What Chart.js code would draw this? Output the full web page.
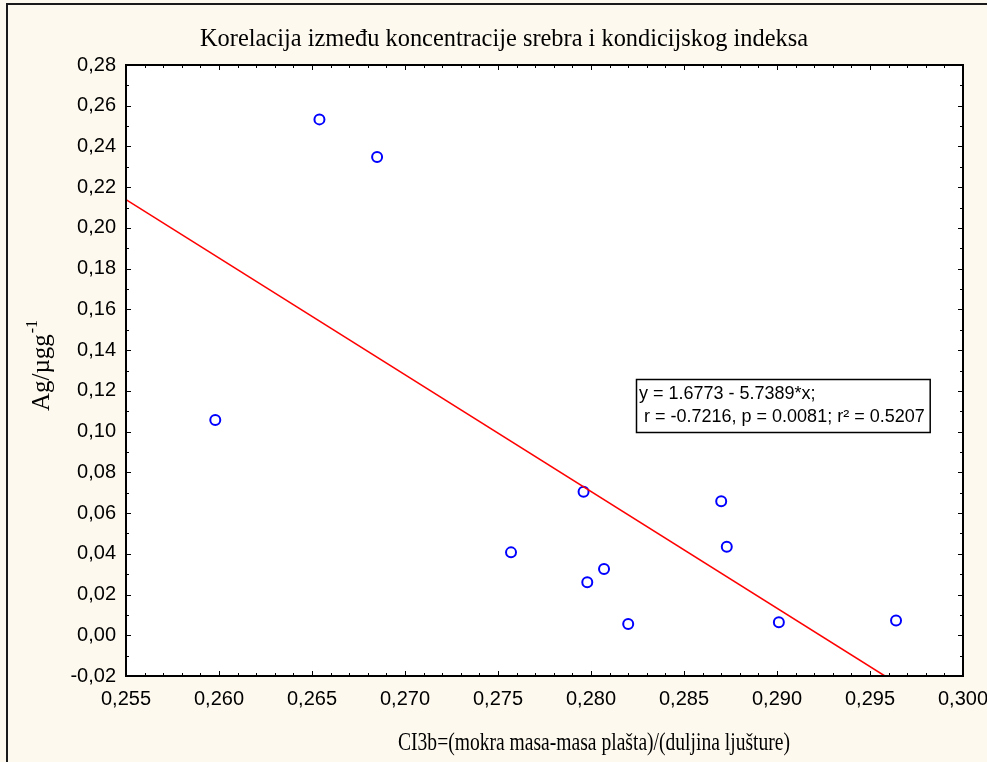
<!DOCTYPE html>
<html>
<head>
<meta charset="utf-8">
<script src="https://cdn.jsdelivr.net/npm/chart.js@4.4.1/dist/chart.umd.min.js"></script>
<style>
  html, body { margin: 0; padding: 0; background: #fdf9ee; }
  canvas { display: block; }
</style>
</head>
<body>
<canvas id="corrChart" width="987" height="762"></canvas>
<script>
// measured points: CI3b (x) vs Ag/µgg-1 (y)
const ciValues = [0.2598, 0.2654, 0.2685, 0.2757, 0.2796, 0.2798, 0.2807, 0.2820, 0.2870, 0.2873, 0.2901, 0.2964];
const agValues = [0.1057, 0.2533, 0.2348, 0.0407, 0.0705, 0.0260, 0.0325, 0.0055, 0.0658, 0.0435, 0.0064, 0.0073];

// fitted line end points
const fitX = [0.255, 0.2958];
const fitY = [0.2139, -0.020];

const titleText = "Korelacija između koncentracije srebra i kondicijskog indeksa";
const xTitle = "CI3b=(mokra masa-masa plašta)/(duljina ljušture)";
const yTitle = "Ag/µgg";
const yTitleSup = "-1";
const statLines = ["y = 1.6773 - 5.7389*x;", " r = -0.7216, p = 0.0081; r² = 0.5207"];
const statAnchor = [0.2824, 0.1258]; // top-left of the box, in data units

const xMin = 0.255, xMax = 0.300, xStep = 0.005, xMinor = 0.001;
const yMin = -0.02, yMax = 0.28, yStep = 0.02, yMinor = 0.01;

const comma = (v, d) => v.toFixed(d).replace(".", ",");

const scatterPoints = ciValues.map((x, i) => ({ x: x, y: agValues[i] }));
const fitPoints = fitX.map((x, i) => ({ x: x, y: fitY[i] }));

const serif = "'Liberation Serif', 'Times New Roman', serif";
const sans = "'Liberation Sans', Arial, sans-serif";

// background, frame, inward ticks and texts
const decorPlugin = {
  id: "decor",
  beforeDraw(chart) {
    const ctx = chart.ctx;
    const a = chart.chartArea;
    ctx.save();
    ctx.fillStyle = "#fdf9ee";
    ctx.fillRect(0, 0, chart.width, chart.height);
    ctx.strokeStyle = "#1a1a1a";
    ctx.lineWidth = 2;
    ctx.strokeRect(7, 4, 1200, 1200);
    ctx.fillStyle = "#ffffff";
    ctx.fillRect(a.left, a.top, a.right - a.left, a.bottom - a.top);
    ctx.restore();
  },
  afterDatasetsDraw(chart) {
    const ctx = chart.ctx;
    const a = chart.chartArea;
    const xs = chart.scales.x, ys = chart.scales.y;
    ctx.save();
    ctx.strokeStyle = "#000";
    ctx.lineWidth = 1;
    ctx.beginPath();
    const nx = Math.round((xMax - xMin) / xMinor);
    for (let i = 0; i <= nx; i++) {
      const v = xMin + i * xMinor;
      const px = Math.round(xs.getPixelForValue(v)) + 0.5;
      const len = (i % 5 === 0) ? 5 : 3;
      ctx.moveTo(px, a.bottom); ctx.lineTo(px, a.bottom - len);
      ctx.moveTo(px, a.top); ctx.lineTo(px, a.top + len);
    }
    const ny = Math.round((yMax - yMin) / yMinor);
    for (let i = 0; i <= ny; i++) {
      const v = yMin + i * yMinor;
      const py = Math.round(ys.getPixelForValue(v)) + 0.5;
      const len = (i % 2 === 0) ? 5 : 3;
      ctx.moveTo(a.left, py); ctx.lineTo(a.left + len, py);
      ctx.moveTo(a.right, py); ctx.lineTo(a.right - len, py);
    }
    ctx.stroke();
    ctx.lineWidth = 2;
    ctx.strokeRect(a.left, a.top, a.right - a.left, a.bottom - a.top);

    // stats box
    ctx.font = "18px " + sans;
    const bx = Math.round(xs.getPixelForValue(statAnchor[0]));
    const by = Math.round(ys.getPixelForValue(statAnchor[1]));
    const bw = Math.max(...statLines.map(t => ctx.measureText(t).width)) + 8;
    const bh = 53;
    ctx.fillStyle = "#fff";
    ctx.fillRect(bx, by, bw, bh);
    ctx.lineWidth = 1.5;
    ctx.strokeRect(bx + 0.5, by + 0.5, bw, bh);
    ctx.fillStyle = "#000";
    ctx.textBaseline = "middle";
    ctx.textAlign = "left";
    ctx.fillText(statLines[0], bx + 3, by + 15);
    ctx.fillText(statLines[1], bx + 3, by + 38);

    // chart title
    ctx.textBaseline = "alphabetic";
    ctx.font = "25px " + serif;
    ctx.textAlign = "center";
    ctx.fillText(titleText, 504, 46, 608);

    // x axis title
    ctx.font = "25px " + serif;
    ctx.fillText(xTitle, 594, 750, 392);

    // y axis title with superscript
    ctx.translate(49, 366);
    ctx.rotate(-Math.PI / 2);
    ctx.font = "25px " + serif;
    const w1 = ctx.measureText(yTitle).width;
    ctx.font = "16px " + serif;
    const w2 = ctx.measureText(yTitleSup).width;
    const start = -(w1 + w2) / 2;
    ctx.textAlign = "left";
    ctx.font = "25px " + serif;
    ctx.fillText(yTitle, start, 0);
    ctx.font = "16px " + serif;
    ctx.fillText(yTitleSup, start + w1 + 1, -12);
    ctx.restore();
  }
};

new Chart(document.getElementById("corrChart"), {
  type: "scatter",
  data: {
    datasets: [
      {
        type: "line",
        label: "fit",
        data: fitPoints,
        borderColor: "#ff0000",
        borderWidth: 1.5,
        pointRadius: 0,
        fill: false,
        tension: 0,
      },
      {
        label: "Ag",
        data: scatterPoints,
        pointStyle: "circle",
        pointRadius: 5,
        pointBorderWidth: 2,
        pointBorderColor: "#0000ff",
        pointBackgroundColor: "rgba(0,0,0,0)",
      },
    ],
  },
  options: {
    responsive: false,
    animation: false,
    devicePixelRatio: 1,
    layout: { padding: { top: 65, right: 24, left: 0, bottom: 0 } },
    plugins: {
      legend: { display: false },
      tooltip: { enabled: false },
    },
    scales: {
      x: {
        type: "linear",
        min: xMin,
        max: xMax,
        grid: { display: false, drawTicks: false },
        border: { display: false },
        ticks: {
          stepSize: xStep,
          padding: 11,
          color: "#000",
          maxRotation: 0,
          font: { family: sans, size: 20 },
          callback: (v) => comma(v, 3),
        },
        afterFit: (s) => { s.height = 86; s.paddingLeft = 0; s.paddingRight = 0; },
      },
      y: {
        type: "linear",
        min: yMin,
        max: yMax,
        grid: { display: false, drawTicks: false },
        border: { display: false },
        ticks: {
          stepSize: yStep,
          padding: 10,
          color: "#000",
          font: { family: sans, size: 20 },
          callback: (v) => comma(v, 2),
        },
        afterFit: (s) => { s.width = 126; s.paddingTop = 0; s.paddingBottom = 0; },
      },
    },
  },
  plugins: [decorPlugin],
});
</script>
</body>
</html>
